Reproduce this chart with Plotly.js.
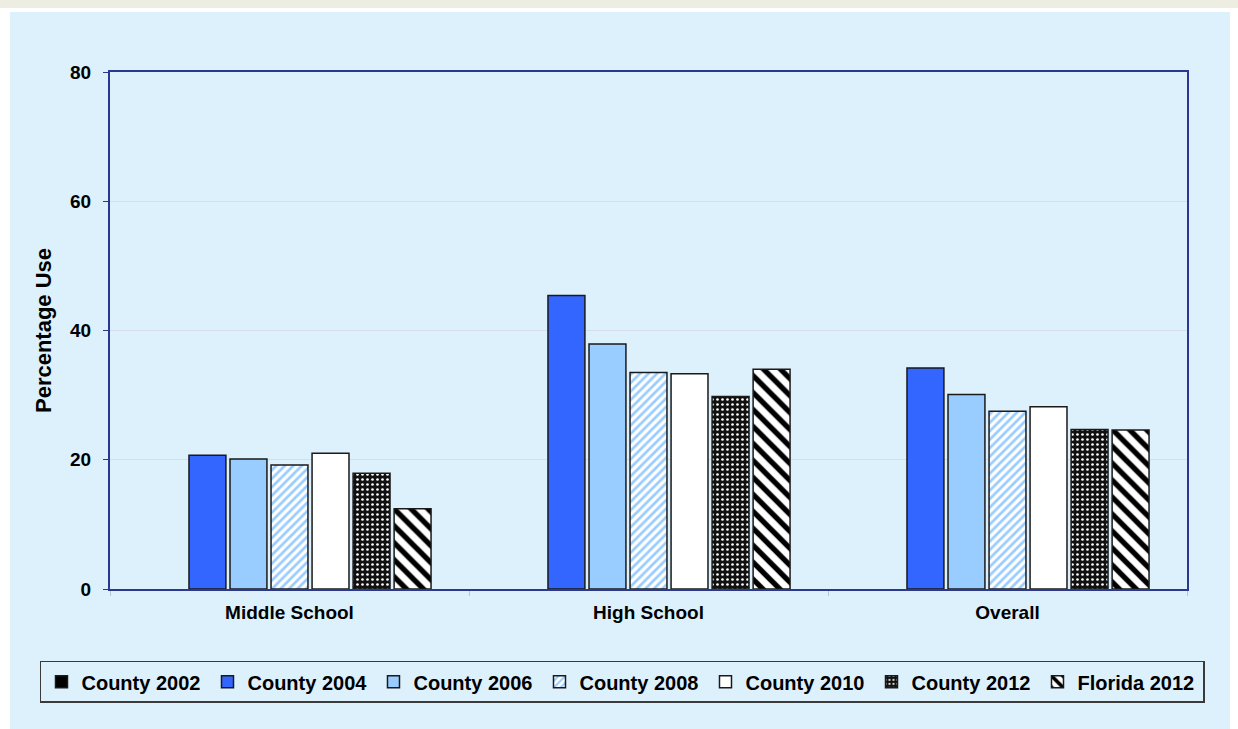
<!DOCTYPE html>
<html>
<head>
<meta charset="utf-8">
<script src="https://cdn.plot.ly/plotly-3.0.1.min.js"></script>
<style>
  html, body { margin: 0; padding: 0; background: #ffffff; width: 1238px; height: 729px; overflow: hidden; }
  #strip { position: absolute; left: 0; top: 0; width: 1238px; height: 8px; background: #eeede1; }
  #chart { position: absolute; left: 10px; top: 12px; width: 1220px; height: 717px; }
</style>
</head>
<body>
<div id="strip"></div>
<div id="chart"></div>
<script>
const categories = ["Middle School", "High School", "Overall"];
const seriesNames = ["County 2002", "County 2004", "County 2006", "County 2008", "County 2010", "County 2012", "Florida 2012"];
const county2002 = [null, null, null];
const county2004 = [20.7, 45.4, 34.2];
const county2006 = [20.1, 37.9, 30.1];
const county2008 = [19.2, 33.5, 27.5];
const county2010 = [21.0, 33.3, 28.2];
const county2012 = [17.9, 29.8, 24.7];
const florida2012 = [12.4, 34.0, 24.6];
const yTicks = [0, 20, 40, 60, 80];

const seriesValues = [county2002, county2004, county2006, county2008, county2010, county2012, florida2012];
const markers = [
  {color: "#000000"},
  {color: "#3366ff"},
  {color: "#99ccff"},
  {color: "#ffffff", pattern: {shape: "/", fgcolor: "#99ccff", bgcolor: "#ffffff", size: 6, solidity: 0.45, fillmode: "replace"}},
  {color: "#ffffff"},
  {color: "#111111", pattern: {shape: ".", fgcolor: "#ffffff", bgcolor: "#111111", size: 5, solidity: 0.22, fillmode: "replace"}},
  {color: "#ffffff", pattern: {shape: "\\", fgcolor: "#000000", bgcolor: "#ffffff", size: 12, solidity: 0.45, fillmode: "replace"}}
];

const traces = seriesNames.map((name, i) => ({
  type: "bar",
  name: name,
  x: categories,
  y: seriesValues[i],
  marker: Object.assign({line: {color: "#1a1a1a", width: 1.5}}, markers[i]),
  hoverinfo: "x+y+name"
}));

const font = {family: "'Liberation Sans', Arial, sans-serif", color: "#000000"};

const layout = {
  width: 1220,
  height: 717,
  paper_bgcolor: "#ddf1fc",
  plot_bgcolor: "#ddf1fc",
  margin: {l: 100, r: 43, t: 60, b: 140},
  barmode: "group",
  bargap: 0.2,
  bargroupgap: 0.1,
  font: font,
  showlegend: true,
  xaxis: {
    type: "category",
    tickfont: {family: font.family, size: 19, color: "#000", weight: "bold"},
    showline: true,
    linecolor: "#2b3890",
    linewidth: 2,
    mirror: true,
    ticks: "outside",
    tickson: "boundaries",
    ticklen: 5,
    tickcolor: "#b8c4d8",
    ticklabelstandoff: 5,
    showgrid: false,
    zeroline: false
  },
  yaxis: {
    range: [0, 80],
    tickvals: yTicks,
    ticktext: yTicks.map(String),
    tickfont: {family: font.family, size: 19, color: "#000", weight: "bold"},
    showline: true,
    linecolor: "#2b3890",
    linewidth: 2,
    mirror: true,
    ticks: "outside",
    ticklen: 5,
    tickcolor: "#2b3890",
    ticklabelstandoff: 8,
    showgrid: true,
    gridcolor: "#d4dde8",
    gridwidth: 1,
    zeroline: false,
    title: {text: "Percentage Use", font: {family: font.family, size: 22, color: "#000", weight: "bold"}, standoff: 12}
  },
  legend: {
    orientation: "h",
    x: -0.065,
    xanchor: "left",
    y: -0.139,
    yanchor: "top",
    bgcolor: "rgba(0,0,0,0)",
    bordercolor: "#3a3a3a",
    borderwidth: 1.5,
    font: {family: font.family, size: 20, color: "#000", weight: "bold"},
    itemwidth: 30,
    entrywidth: 121,
    traceorder: "normal"
  }
};

Plotly.newPlot("chart", traces, layout, {displayModeBar: false, staticPlot: true});
</script>
</body>
</html>
